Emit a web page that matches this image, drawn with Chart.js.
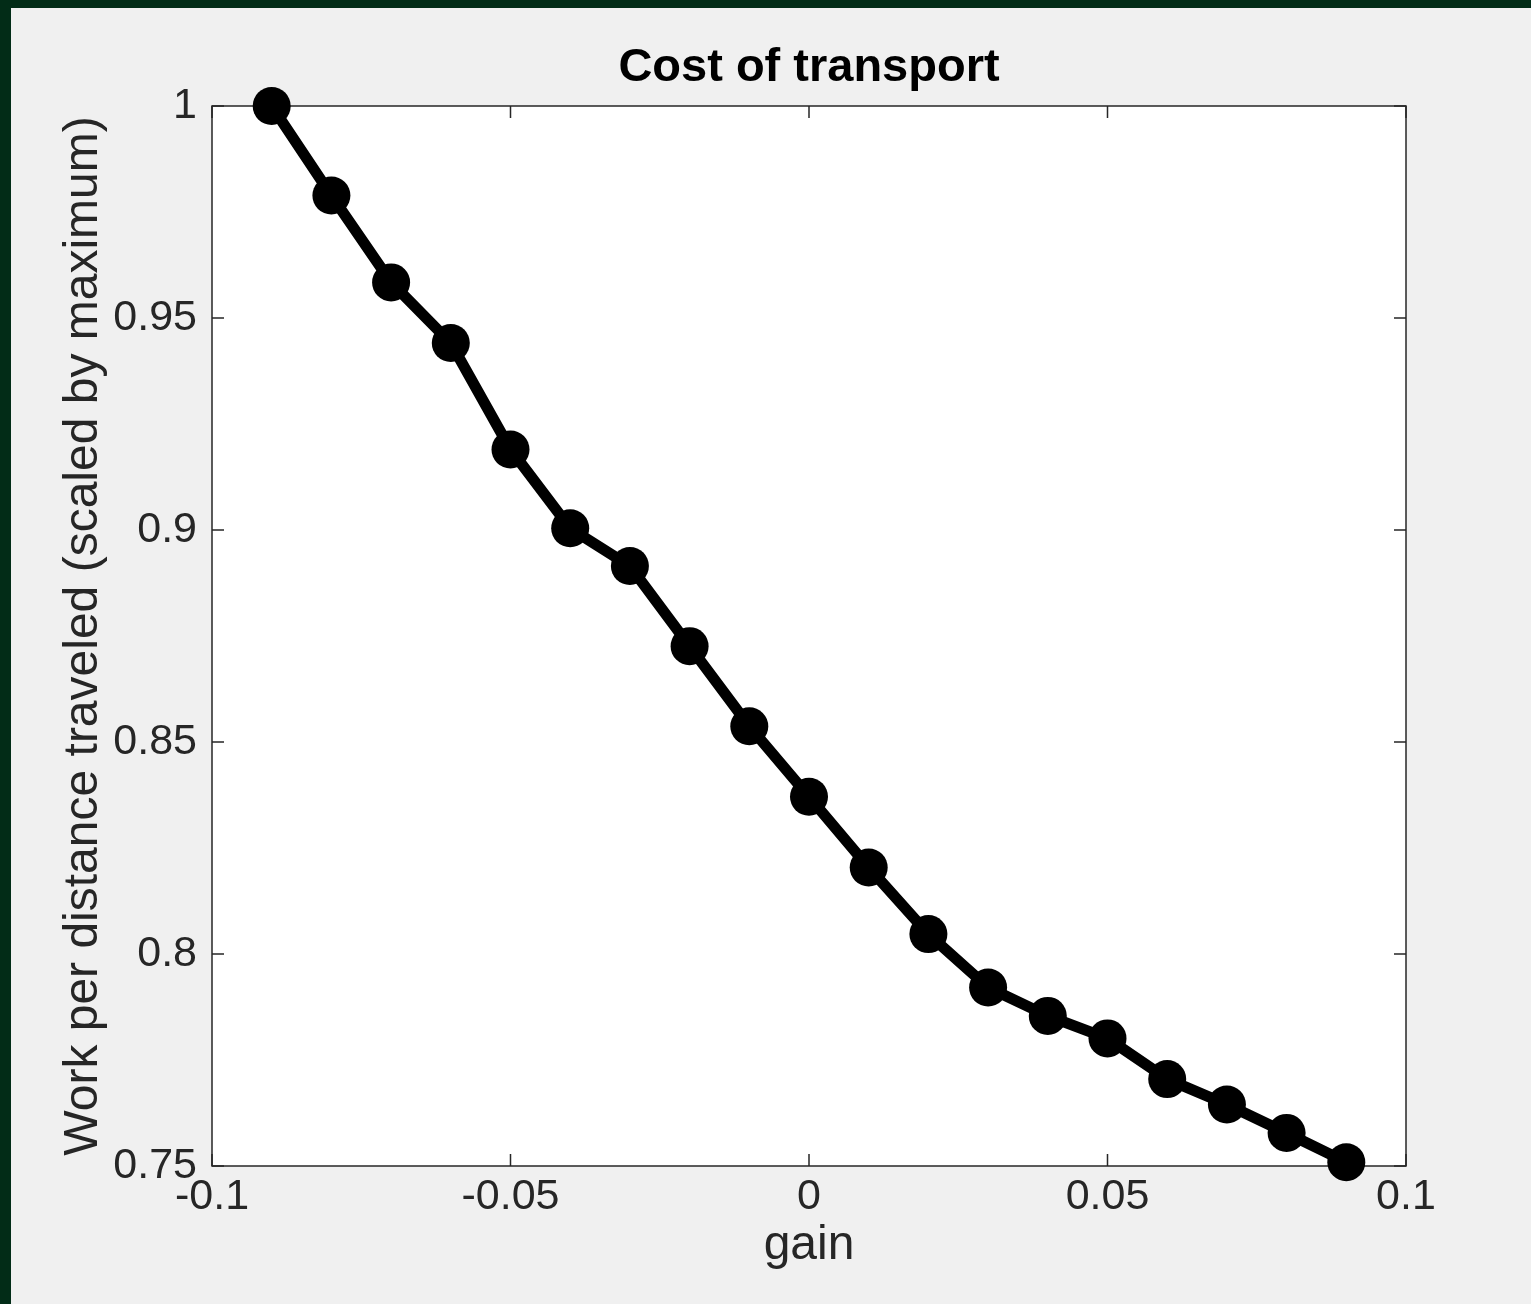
<!DOCTYPE html>
<html><head><meta charset="utf-8">
<script src="https://cdn.jsdelivr.net/npm/chart.js@4/dist/chart.umd.min.js"></script>
<style>html,body{margin:0;padding:0;background:#f0f0f0;overflow:hidden}
canvas{display:block}</style></head>
<body><canvas id="c" width="1531" height="1304"></canvas>
<script>
const gains = [-0.09,-0.08,-0.07,-0.06,-0.05,-0.04,-0.03,-0.02,-0.01,0,0.01,0.02,0.03,0.04,0.05,0.06,0.07,0.08,0.09];
const costOfTransport = [1.0,0.9789,0.9584,0.9441,0.9190,0.9004,0.8915,0.8726,0.8537,0.8371,0.8204,0.8047,0.7921,0.7854,0.7801,0.7705,0.7645,0.7578,0.7509];
const xTicks = [-0.1,-0.05,0,0.05,0.1];
const xTickLabels = ['-0.1','-0.05','0','0.05','0.1'];
const yTicks = [0.75,0.8,0.85,0.9,0.95,1];
const yTickLabels = ['0.75','0.8','0.85','0.9','0.95','1'];

const FONT = "'Liberation Sans', Arial, Helvetica, sans-serif";
const AXIS = '#262626';

const framePlugin = {
  id: 'frame',
  beforeDraw(chart) {
    const {ctx, width, height, chartArea: a} = chart;
    ctx.save();
    ctx.fillStyle = '#022c17';
    ctx.fillRect(0, 0, width, height);
    ctx.fillStyle = '#f0f0f0';
    ctx.fillRect(11, 8, width - 11, height - 8);
    ctx.fillStyle = '#ffffff';
    ctx.fillRect(a.left, a.top, a.right - a.left, a.bottom - a.top);
    ctx.restore();
  },
  beforeDatasetsDraw(chart) {
    const {ctx, chartArea: a, scales} = chart;
    const tl = 12;
    ctx.save();
    ctx.strokeStyle = AXIS;
    ctx.lineWidth = 1.5;
    ctx.beginPath();
    scales.x.ticks.forEach(t => {
      const px = scales.x.getPixelForValue(t.value);
      ctx.moveTo(px, a.bottom); ctx.lineTo(px, a.bottom - tl);
      ctx.moveTo(px, a.top); ctx.lineTo(px, a.top + tl);
    });
    scales.y.ticks.forEach(t => {
      const py = scales.y.getPixelForValue(t.value);
      ctx.moveTo(a.left, py); ctx.lineTo(a.left + tl, py);
      ctx.moveTo(a.right, py); ctx.lineTo(a.right - tl, py);
    });
    ctx.stroke();
    ctx.strokeRect(a.left, a.top, a.right - a.left, a.bottom - a.top);
    ctx.restore();
  }
};

new Chart(document.getElementById('c'), {
  type: 'line',
  data: {
    datasets: [{
      data: gains.map((g, i) => ({x: g, y: costOfTransport[i]})),
      borderColor: '#000000',
      borderWidth: 11,
      borderJoinStyle: 'round',
      pointRadius: 19,
      pointHoverRadius: 19,
      pointBackgroundColor: '#000000',
      pointBorderWidth: 0,
      tension: 0,
      fill: false,
      clip: false
    }]
  },
  options: {
    responsive: false,
    devicePixelRatio: 1,
    animation: false,
    events: [],
    layout: {padding: {left: 0, top: 0, right: 125, bottom: 0}},
    plugins: {
      legend: {display: false},
      tooltip: {enabled: false},
      title: {
        display: true,
        fullSize: false,
        text: 'Cost of transport',
        color: '#000000',
        font: {family: FONT, size: 47, weight: 'bold'},
        padding: {top: 39.8, bottom: 9.8}
      }
    },
    scales: {
      x: {
        type: 'linear',
        min: -0.1, max: 0.1,
        afterBuildTicks: s => { s.ticks = xTicks.map(v => ({value: v})); },
        afterFit: s => { s.height = 138; },
        grid: {display: false, drawTicks: false},
        border: {display: false},
        ticks: {
          autoSkip: false, maxRotation: 0, padding: 5,
          color: AXIS, font: {family: FONT, size: 43},
          callback: (v, i) => xTickLabels[i]
        },
        title: {display: true, text: 'gain', color: AXIS,
          font: {family: FONT, size: 48}, padding: {top: 0, bottom: 29.8}}
      },
      y: {
        type: 'linear',
        min: 0.75, max: 1,
        afterBuildTicks: s => { s.ticks = yTicks.map(v => ({value: v})); },
        afterFit: s => { s.width = 212; },
        grid: {display: false, drawTicks: false},
        border: {display: false},
        ticks: {
          autoSkip: false, padding: 15,
          color: AXIS, font: {family: FONT, size: 43},
          callback: (v, i) => yTickLabels[i]
        },
        title: {display: true, text: 'Work per distance traveled (scaled by maximum)', color: AXIS,
          font: {family: FONT, size: 48}, padding: {top: 54.6, bottom: 0}}
      }
    }
  },
  plugins: [framePlugin]
});
</script>
</body></html>
